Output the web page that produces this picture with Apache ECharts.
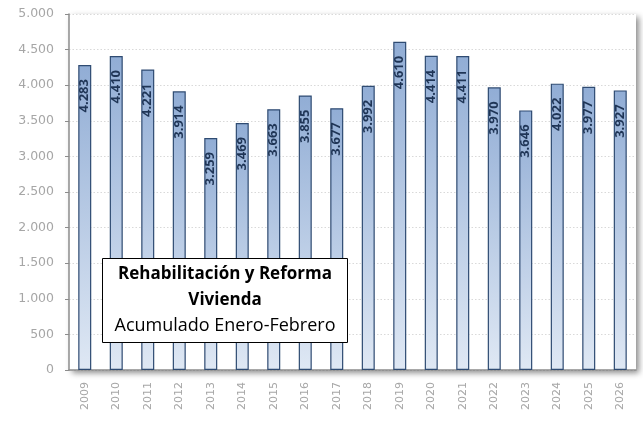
<!DOCTYPE html>
<html>
<head>
<meta charset="utf-8">
<script src="https://cdn.jsdelivr.net/npm/echarts@6/dist/echarts.min.js"></script>
<style>
  html, body { margin: 0; padding: 0; background: #fff; }
  #main { width: 643px; height: 423px; }
</style>
</head>
<body>
<div id="main"></div>
<script>
// datos
var years = ['2009','2010','2011','2012','2013','2014','2015','2016','2017','2018','2019','2020','2021','2022','2023','2024','2025','2026'];
var valores = [4283,4410,4221,3914,3259,3469,3663,3855,3677,3992,4610,4414,4411,3970,3646,4022,3977,3927];
var titulo = ['Rehabilitación y Reforma', 'Vivienda', 'Acumulado Enero-Febrero'];

var gLeft = 69, gTop = 14, gW = 567, gH = 356;

function fmt(v) {
  return v >= 1000 ? Math.floor(v / 1000) + '.' + ('00' + (v % 1000)).slice(-3) : String(v);
}

var myChart = echarts.init(document.getElementById('main'));
myChart.setOption({
  animation: false,
  grid: { left: gLeft, top: gTop, width: gW, height: gH },
  graphic: [
    {
      type: 'rect', z: -1, silent: true,
      shape: { x: gLeft, y: gTop, width: gW, height: gH },
      style: { fill: '#fff', shadowBlur: 6, shadowOffsetX: 3, shadowOffsetY: 3, shadowColor: 'rgba(0,0,0,0.45)' }
    },
    // cuadro del título
    { type: 'rect', z: 100, shape: { x: 102.5, y: 258.5, width: 245, height: 84 },
      style: { fill: '#fff', stroke: '#000', lineWidth: 1 } },
    { type: 'text', z: 101, x: 225, y: 274, style: { text: titulo[0], font: 'bold 17px "Open Sans"', fill: '#000', align: 'center', verticalAlign: 'middle' } },
    { type: 'text', z: 101, x: 225, y: 300, style: { text: titulo[1], font: 'bold 17px "Open Sans"', fill: '#000', align: 'center', verticalAlign: 'middle' } },
    { type: 'text', z: 101, x: 225, y: 326, style: { text: titulo[2], font: '18px "Open Sans"', fill: '#000', align: 'center', verticalAlign: 'middle' } }
  ],
  xAxis: {
    type: 'category',
    data: years,
    axisLine: { lineStyle: { color: '#8c8c8c', width: 1.5 } },
    axisTick: { show: false },
    axisLabel: { rotate: 90, color: '#a6a6a6', fontSize: 11, fontFamily: 'DejaVu Sans', margin: 12 }
  },
  yAxis: {
    type: 'value',
    min: 0, max: 5000, interval: 500,
    axisLine: { show: true, lineStyle: { color: '#8c8c8c', width: 1.5 } },
    axisTick: { show: true, length: 4, lineStyle: { color: '#8c8c8c' } },
    splitLine: { lineStyle: { color: '#d9d9d9', type: [1.5, 2] } },
    axisLabel: { color: '#a6a6a6', fontSize: 12.5, fontFamily: 'DejaVu Sans', margin: 15, formatter: fmt }
  },
  series: [{
    type: 'bar',
    data: valores,
    barWidth: 13,
    itemStyle: {
      color: new echarts.graphic.LinearGradient(0, 0, 0, 1, [
        { offset: 0, color: '#91add5' },
        { offset: 1, color: '#dfe8f4' }
      ]),
      borderColor: '#2f4b72',
      borderWidth: 1.2
    },
    label: {
      show: true,
      position: 'insideTop',
      rotate: 90,
      align: 'right',
      verticalAlign: 'middle',
      distance: 14,
      color: '#1f3556',
      fontWeight: 'bold',
      fontSize: 13,
      fontFamily: 'Open Sans',
      formatter: function (p) { return fmt(p.value); }
    }
  }]
});
</script>
</body>
</html>
